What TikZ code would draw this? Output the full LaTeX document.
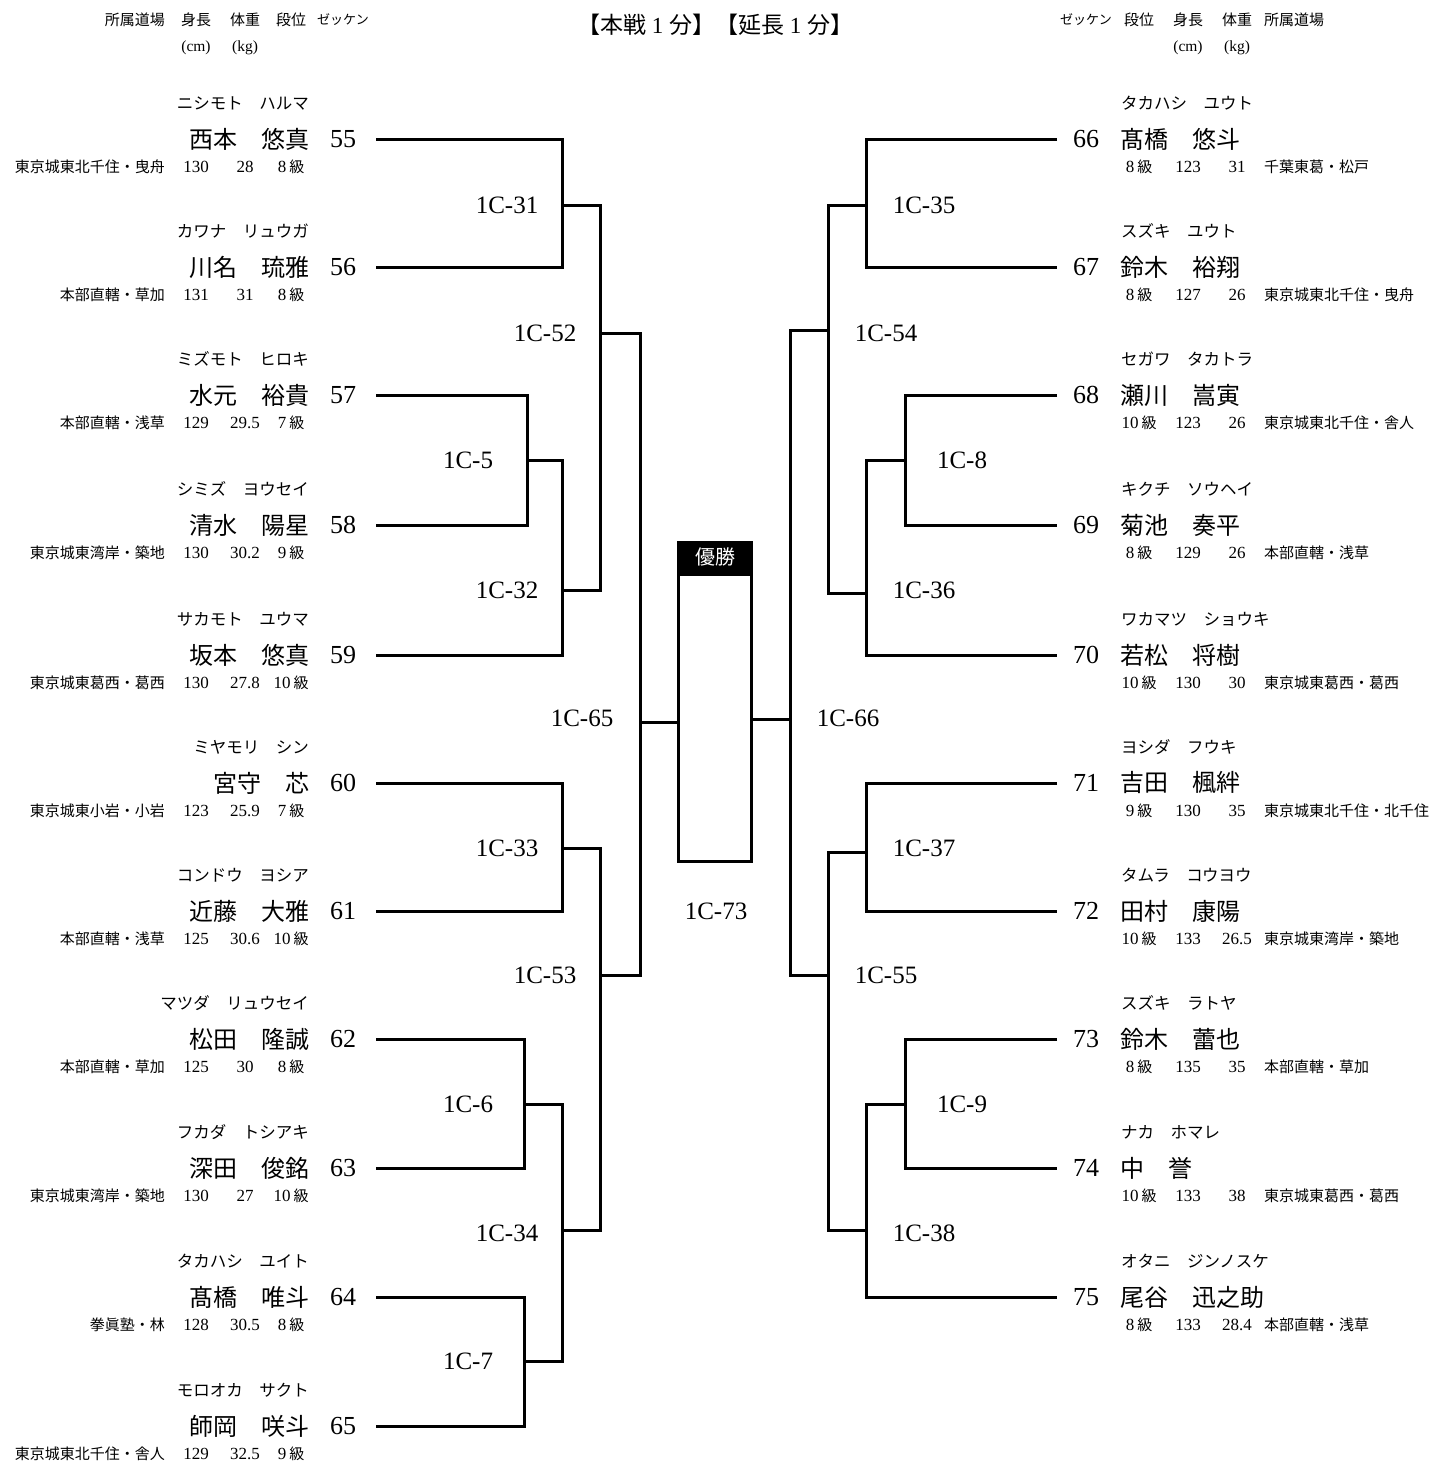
\documentclass[tikz,border=0pt]{standalone}
\usepackage{fontspec}
\setmainfont{Liberation Serif}
\newfontfamily\jp{Noto Sans CJK JP}
\tikzset{
  pnum/.style={inner sep=0pt, font=\fontsize{26}{30}\selectfont},
  pname/.style={inner sep=0pt, font=\jp\fontsize{24}{28}\selectfont},
  pkana/.style={inner sep=0pt, font=\jp\fontsize{16.5}{18}\selectfont},
  pstat/.style={inner sep=0pt, font=\fontsize{17}{18}\selectfont},
  paff/.style={inner sep=0pt, font=\jp\fontsize{15}{18}\selectfont},
  hdr/.style={inner sep=0pt, font=\jp\fontsize{15}{18}\selectfont},
  hdrs/.style={inner sep=0pt, font=\fontsize{15.5}{18}\selectfont},
  mlabel/.style={inner sep=0pt, font=\fontsize{25}{30}\selectfont},
  br/.style={line width=3pt, black},
}
% left player: y, num, kana, name, aff, height, weight, grade
\newcommand\lpl[8]{%
  \node[pnum] (n#2) at (343,#1) {#2};
  \node[pname, anchor=east] (nm#2) at (310,#1) {#4};
  \node[pkana, anchor=east] (k#2) at (309,#1-36) {#3};
  \node[paff, anchor=east] (a#2) at (165,#1+28) {#5};
  \node[pstat] (h#2) at (196,#1+28) {#6};
  \node[pstat] (w#2) at (245,#1+28) {#7};
  \node[pstat] (g#2) at (291,#1+28) {#8\hspace{3pt}{\jp\fontsize{15}{18}\selectfont 級}};
  \coordinate (p#2) at (376,#1);
}
% right player: y, num, kana, name, grade, height, weight, aff
\newcommand\rpl[8]{%
  \node[pnum] (n#2) at (1086,#1) {#2};
  \node[pname, anchor=west] (nm#2) at (1120,#1) {#4};
  \node[pkana, anchor=west] (k#2) at (1121,#1-36) {#3};
  \node[pstat] (g#2) at (1139,#1+28) {#5\hspace{3pt}{\jp\fontsize{15}{18}\selectfont 級}};
  \node[pstat] (h#2) at (1188,#1+28) {#6};
  \node[pstat] (w#2) at (1237,#1+28) {#7};
  \node[paff, anchor=west] (a#2) at (1264,#1+28) {#8};
  \coordinate (q#2) at (1057,#1);
}
\begin{document}
\begin{tikzpicture}[x=1pt,y=-1pt]
\useasboundingbox (0,0) rectangle (1429,1465);

% headers
\node[hdr, anchor=east] (hL1) at (165,20) {所属道場};
\node[hdr] (hL2) at (196,20) {身長};
\node[hdr] (hL3) at (245,20) {体重};
\node[hdr] (hL4) at (291,20) {段位};
\node[hdr, font=\jp\fontsize{13}{16}\selectfont] (hL5) at (343,20) {ゼッケン};
\node[hdrs] (hL6) at (196,48) {(cm)};
\node[hdrs] (hL7) at (245,48) {(kg)};

\node[hdr, font=\jp\fontsize{13}{16}\selectfont] (hR5) at (1086,20) {ゼッケン};
\node[hdr] (hR4) at (1139,20) {段位};
\node[hdr] (hR2) at (1188,20) {身長};
\node[hdr] (hR3) at (1237,20) {体重};
\node[hdr, anchor=west] (hR1) at (1264,20) {所属道場};
\node[hdrs] (hR6) at (1188,48) {(cm)};
\node[hdrs] (hR7) at (1237,48) {(kg)};

\node[inner sep=0pt, font=\fontsize{23}{26}\selectfont] (title) at (715,25)
  {{\jp 【本戦} 1 {\jp 分】【延長} 1 {\jp 分】}};

% left players
\lpl{139}{55}{\jp ニシモト　ハルマ}{\jp 西本　悠真}{\jp 東京城東北千住・曳舟}{130}{28}{8}
\lpl{267}{56}{\jp カワナ　リュウガ}{\jp 川名　琉雅}{\jp 本部直轄・草加}{131}{31}{8}
\lpl{395}{57}{\jp ミズモト　ヒロキ}{\jp 水元　裕貴}{\jp 本部直轄・浅草}{129}{29.5}{7}
\lpl{525}{58}{\jp シミズ　ヨウセイ}{\jp 清水　陽星}{\jp 東京城東湾岸・築地}{130}{30.2}{9}
\lpl{655}{59}{\jp サカモト　ユウマ}{\jp 坂本　悠真}{\jp 東京城東葛西・葛西}{130}{27.8}{10}
\lpl{783}{60}{\jp ミヤモリ　シン}{\jp 宮守　芯}{\jp 東京城東小岩・小岩}{123}{25.9}{7}
\lpl{911}{61}{\jp コンドウ　ヨシア}{\jp 近藤　大雅}{\jp 本部直轄・浅草}{125}{30.6}{10}
\lpl{1039}{62}{\jp マツダ　リュウセイ}{\jp 松田　隆誠}{\jp 本部直轄・草加}{125}{30}{8}
\lpl{1168}{63}{\jp フカダ　トシアキ}{\jp 深田　俊銘}{\jp 東京城東湾岸・築地}{130}{27}{10}
\lpl{1297}{64}{\jp タカハシ　ユイト}{\jp 髙橋　唯斗}{\jp 拳眞塾・林}{128}{30.5}{8}
\lpl{1426}{65}{\jp モロオカ　サクト}{\jp 師岡　咲斗}{\jp 東京城東北千住・舎人}{129}{32.5}{9}

% right players
\rpl{139}{66}{\jp タカハシ　ユウト}{\jp 髙橋　悠斗}{8}{123}{31}{\jp 千葉東葛・松戸}
\rpl{267}{67}{\jp スズキ　ユウト}{\jp 鈴木　裕翔}{8}{127}{26}{\jp 東京城東北千住・曳舟}
\rpl{395}{68}{\jp セガワ　タカトラ}{\jp 瀬川　嵩寅}{10}{123}{26}{\jp 東京城東北千住・舎人}
\rpl{525}{69}{\jp キクチ　ソウヘイ}{\jp 菊池　奏平}{8}{129}{26}{\jp 本部直轄・浅草}
\rpl{655}{70}{\jp ワカマツ　ショウキ}{\jp 若松　将樹}{10}{130}{30}{\jp 東京城東葛西・葛西}
\rpl{783}{71}{\jp ヨシダ　フウキ}{\jp 吉田　楓絆}{9}{130}{35}{\jp 東京城東北千住・北千住}
\rpl{911}{72}{\jp タムラ　コウヨウ}{\jp 田村　康陽}{10}{133}{26.5}{\jp 東京城東湾岸・築地}
\rpl{1039}{73}{\jp スズキ　ラトヤ}{\jp 鈴木　蕾也}{8}{135}{35}{\jp 本部直轄・草加}
\rpl{1168}{74}{\jp ナカ　ホマレ}{\jp 中　誉}{10}{133}{38}{\jp 東京城東葛西・葛西}
\rpl{1297}{75}{\jp オタニ　ジンノスケ}{\jp 尾谷　迅之助}{8}{133}{28.4}{\jp 本部直轄・浅草}

% left match junctions
\coordinate (m31) at (562,205);
\coordinate (m5)  at (527,460);
\coordinate (m32) at (562,590);
\coordinate (m52) at (600,333);
\coordinate (m33) at (562,848);
\coordinate (m6)  at (524,1104);
\coordinate (m7)  at (524,1361);
\coordinate (m34) at (562,1230);
\coordinate (m53) at (600,975);
\coordinate (m65) at (640,722);
% right match junctions
\coordinate (m35) at (866,205);
\coordinate (m8)  at (905,460);
\coordinate (m36) at (866,593);
\coordinate (m54) at (828,330);
\coordinate (m37) at (866,852);
\coordinate (m9)  at (905,1104);
\coordinate (m38) at (866,1230);
\coordinate (m55) at (828,975);
\coordinate (m66) at (790,719);

% champion box
\node[fill=black, minimum width=76pt, minimum height=32pt, inner sep=0pt,
      text=white, font=\jp\fontsize{20}{24}\selectfont] (yusho) at (715,557) {優勝};
\node[draw, line width=3pt, minimum width=73pt, minimum height=287pt, inner sep=0pt] (box) at (715,718) {};

% left brackets
\draw[br] (p55) -| (m31) |- (p56);
\draw[br] (p57) -| (m5) |- (p58);
\draw[br] (m5) -| (m32) |- (p59);
\draw[br] (m31) -| (m52) |- (m32);
\draw[br] (p60) -| (m33) |- (p61);
\draw[br] (p62) -| (m6) |- (p63);
\draw[br] (p64) -| (m7) |- (p65);
\draw[br] (m6) -| (m34) |- (m7);
\draw[br] (m33) -| (m53) |- (m34);
\draw[br] (m52) -| (m65) |- (m53);
\draw[br] (m65) -- (m65 -| box.west);
% right brackets
\draw[br] (q66) -| (m35) |- (q67);
\draw[br] (q68) -| (m8) |- (q69);
\draw[br] (m8) -| (m36) |- (q70);
\draw[br] (m35) -| (m54) |- (m36);
\draw[br] (q71) -| (m37) |- (q72);
\draw[br] (q73) -| (m9) |- (q74);
\draw[br] (m9) -| (m38) |- (q75);
\draw[br] (m37) -| (m55) |- (m38);
\draw[br] (m54) -| (m66) |- (m55);
\draw[br] (m66) -- (m66 -| box.east);

% match labels
\node[mlabel] (l31) at (507,205) {1C-31};
\node[mlabel] (l5)  at (468,460) {1C-5};
\node[mlabel] (l32) at (507,590) {1C-32};
\node[mlabel] (l52) at (545,333) {1C-52};
\node[mlabel] (l33) at (507,848) {1C-33};
\node[mlabel] (l6)  at (468,1104) {1C-6};
\node[mlabel] (l7)  at (468,1361) {1C-7};
\node[mlabel] (l34) at (507,1233) {1C-34};
\node[mlabel] (l53) at (545,975) {1C-53};
\node[mlabel] (l65) at (582,718) {1C-65};
\node[mlabel] (l35) at (924,205) {1C-35};
\node[mlabel] (l8)  at (962,460) {1C-8};
\node[mlabel] (l36) at (924,590) {1C-36};
\node[mlabel] (l54) at (886,333) {1C-54};
\node[mlabel] (l37) at (924,848) {1C-37};
\node[mlabel] (l9)  at (962,1104) {1C-9};
\node[mlabel] (l38) at (924,1233) {1C-38};
\node[mlabel] (l55) at (886,975) {1C-55};
\node[mlabel] (l66) at (848,718) {1C-66};
\node[mlabel] (l73) at (716,911) {1C-73};
\end{tikzpicture}
\end{document}
